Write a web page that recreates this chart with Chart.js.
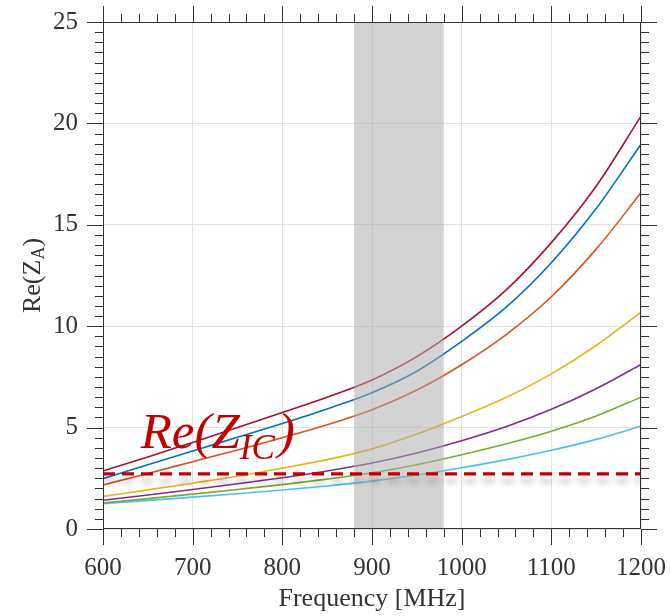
<!DOCTYPE html>
<html lang="en">
<head>
<meta charset="UTF-8">
<title>Re(Z_A) vs Frequency</title>
<style>
  html, body { margin: 0; padding: 0; background: #ffffff; }
  #wrap { width: 670px; height: 616px; }
</style>
</head>
<body>
<div id="wrap"><canvas id="chart" width="670" height="616"></canvas></div>
<script src="https://cdn.jsdelivr.net/npm/chart.js"></script>
<script>
// values (every 50 MHz)
const freqs = [600, 650, 700, 750, 800, 850, 900, 950, 1000, 1050, 1100, 1150, 1200];
const curveDarkRed = [2.86, 3.55, 4.27, 5.00, 5.75, 6.50, 7.35, 8.50, 10.00, 11.80, 14.12, 16.90, 20.36];
const curveBlue    = [2.48, 3.17, 3.85, 4.52, 5.20, 5.92, 6.72, 7.78, 9.25, 10.95, 13.13, 15.80, 18.97];
const curveOrange  = [2.17, 2.74, 3.32, 3.90, 4.50, 5.14, 5.88, 6.85, 8.10, 9.60, 11.45, 13.80, 16.58];
const curveYellow  = [1.61, 1.93, 2.26, 2.60, 3.00, 3.42, 3.95, 4.68, 5.55, 6.50, 7.65, 9.05, 10.69];
const curvePurple  = [1.42, 1.68, 1.95, 2.23, 2.53, 2.86, 3.25, 3.75, 4.35, 5.05, 5.90, 6.92, 8.11];
const curveGreen   = [1.29, 1.50, 1.72, 1.95, 2.19, 2.46, 2.77, 3.17, 3.66, 4.20, 4.82, 5.57, 6.50];
const curveCyan    = [1.25, 1.41, 1.57, 1.74, 1.92, 2.12, 2.36, 2.66, 3.02, 3.42, 3.88, 4.42, 5.07];
const reIC = 2.72;
const band = [880, 980];
const xTickValues = [600, 700, 800, 900, 1000, 1100, 1200];
const yTickValues = [0, 5, 10, 15, 20, 25];

const SERIF = '"Liberation Serif", "DejaVu Serif", serif';

function pts(ys) {
    return freqs.map((f, i) => ({ x: f, y: ys[i] }));
}

function curve(ys, color) {
    return {
        data: pts(ys),
        borderColor: color,
        borderWidth: 1.6,
        pointRadius: 0,
        fill: false,
        cubicInterpolationMode: 'monotone'
    };
}

// gray band + shadow for the dashed line, frame, minor ticks, titles and the Re(Z_IC) label
const decorPlugin = {
    id: 'decor',
    beforeDatasetDraw(chart, args) {
        if (args.index !== 0) return;
        const ctx = chart.ctx, a = chart.chartArea;
        const x = chart.scales.x;
        ctx.save();
        ctx.fillStyle = 'rgba(170,170,170,0.52)';
        const x0 = x.getPixelForValue(band[0]), x1 = x.getPixelForValue(band[1]);
        ctx.fillRect(x0, a.top, x1 - x0, a.bottom - a.top);
        ctx.shadowColor = 'rgba(0,0,0,0.28)';
        ctx.shadowBlur = 6;
        ctx.shadowOffsetY = 7;
    },
    afterDatasetDraw(chart, args) {
        if (args.index !== 0) return;
        chart.ctx.restore();
    },
    afterDraw(chart) {
        const ctx = chart.ctx, a = chart.chartArea;
        const x = chart.scales.x, y = chart.scales.y;
        ctx.save();
        ctx.strokeStyle = '#333333';
        ctx.lineWidth = 1;
        ctx.strokeRect(a.left + 0.5, a.top + 0.5, a.right - a.left - 1, a.bottom - a.top - 1);

        ctx.beginPath();
        // x ticks, every 20 MHz, outward top and bottom
        for (let f = 600; f <= 1200; f += 20) {
            const px = Math.round(x.getPixelForValue(f)) + 0.5;
            const len = (f % 100 === 0) ? 16 : 8;
            ctx.moveTo(px, a.bottom); ctx.lineTo(px, a.bottom + len);
            ctx.moveTo(px, a.top); ctx.lineTo(px, a.top - len);
        }
        // y ticks, every 0.5, outward left and right
        for (let v = 0; v <= 25; v += 0.5) {
            const py = Math.round(y.getPixelForValue(v)) + 0.5;
            const len = (v % 5 === 0) ? 16 : 8;
            ctx.moveTo(a.left, py); ctx.lineTo(a.left - len, py);
            ctx.moveTo(a.right, py); ctx.lineTo(a.right + len, py);
        }
        ctx.stroke();

        // axis titles
        ctx.fillStyle = '#333333';
        ctx.textBaseline = 'alphabetic';
        ctx.textAlign = 'center';
        ctx.font = '26px ' + SERIF;
        ctx.fillText('Frequency [MHz]', (a.left + a.right) / 2, 606);

        ctx.save();
        ctx.translate(40, (a.top + a.bottom) / 2);
        ctx.rotate(-Math.PI / 2);
        ctx.textAlign = 'left';
        const p1 = 'Re(Z';
        ctx.font = '26px ' + SERIF;
        const w1 = ctx.measureText(p1).width;
        ctx.font = '18px ' + SERIF;
        const w2 = ctx.measureText('A').width;
        ctx.font = '26px ' + SERIF;
        const w3 = ctx.measureText(')').width;
        let cx = -(w1 + w2 + w3) / 2;
        ctx.fillText(p1, cx, 0); cx += w1;
        ctx.font = '18px ' + SERIF;
        ctx.fillText('A', cx, 4); cx += w2;
        ctx.font = '26px ' + SERIF;
        ctx.fillText(')', cx, 0);
        ctx.restore();

        // Re(Z_IC) label
        ctx.fillStyle = '#C00000';
        ctx.textAlign = 'left';
        let lx = x.getPixelForValue(642);
        const ly = y.getPixelForValue(4.0);
        ctx.font = 'italic 51px ' + SERIF;
        ctx.fillText('Re(Z', lx, ly);
        lx += ctx.measureText('Re(Z').width;
        ctx.font = 'italic 35px ' + SERIF;
        ctx.fillText('IC', lx, ly + 11);
        lx += ctx.measureText('IC').width;
        ctx.font = 'italic 51px ' + SERIF;
        ctx.fillText(')', lx + 3, ly);
        ctx.restore();
    }
};

Chart.defaults.font.family = SERIF;
Chart.defaults.color = '#333333';

new Chart(document.getElementById('chart').getContext('2d'), {
    type: 'line',
    data: {
        datasets: [
            {
                data: [{ x: freqs[0], y: reIC }, { x: freqs[freqs.length - 1], y: reIC }],
                borderColor: '#C00000',
                borderWidth: 3.2,
                borderDash: [12, 7],
                pointRadius: 0,
                fill: false
            },
            curve(curveDarkRed, '#A2142F'),
            curve(curveBlue, '#0072BD'),
            curve(curveOrange, '#D95319'),
            curve(curveYellow, '#EDB120'),
            curve(curvePurple, '#7E2F8E'),
            curve(curveGreen, '#77AC30'),
            curve(curveCyan, '#4DBEEE')
        ]
    },
    options: {
        responsive: false,
        animation: false,
        devicePixelRatio: 1,
        layout: { padding: { top: 22, right: 29, left: 0, bottom: 0 } },
        plugins: {
            legend: { display: false },
            tooltip: { enabled: false }
        },
        scales: {
            x: {
                type: 'linear',
                min: 600,
                max: 1200,
                afterBuildTicks: (s) => { s.ticks = xTickValues.map(v => ({ value: v })); },
                afterFit: (s) => { s.height = 87; s.paddingLeft = 0; s.paddingRight = 0; },
                ticks: {
                    padding: 24, font: { size: 25 }, color: '#333333', maxRotation: 0,
                    callback: (v) => String(v)
                },
                grid: { color: '#e2e2e2', drawTicks: false },
                border: { display: false }
            },
            y: {
                min: 0,
                max: 25,
                afterBuildTicks: (s) => { s.ticks = yTickValues.map(v => ({ value: v })); },
                afterFit: (s) => { s.width = 103; s.paddingTop = 0; s.paddingBottom = 0; },
                ticks: { padding: 25, font: { size: 25 }, color: '#333333', callback: (v) => String(v) },
                grid: { color: '#e2e2e2', drawTicks: false },
                border: { display: false }
            }
        }
    },
    plugins: [decorPlugin]
});
</script>
</body>
</html>
